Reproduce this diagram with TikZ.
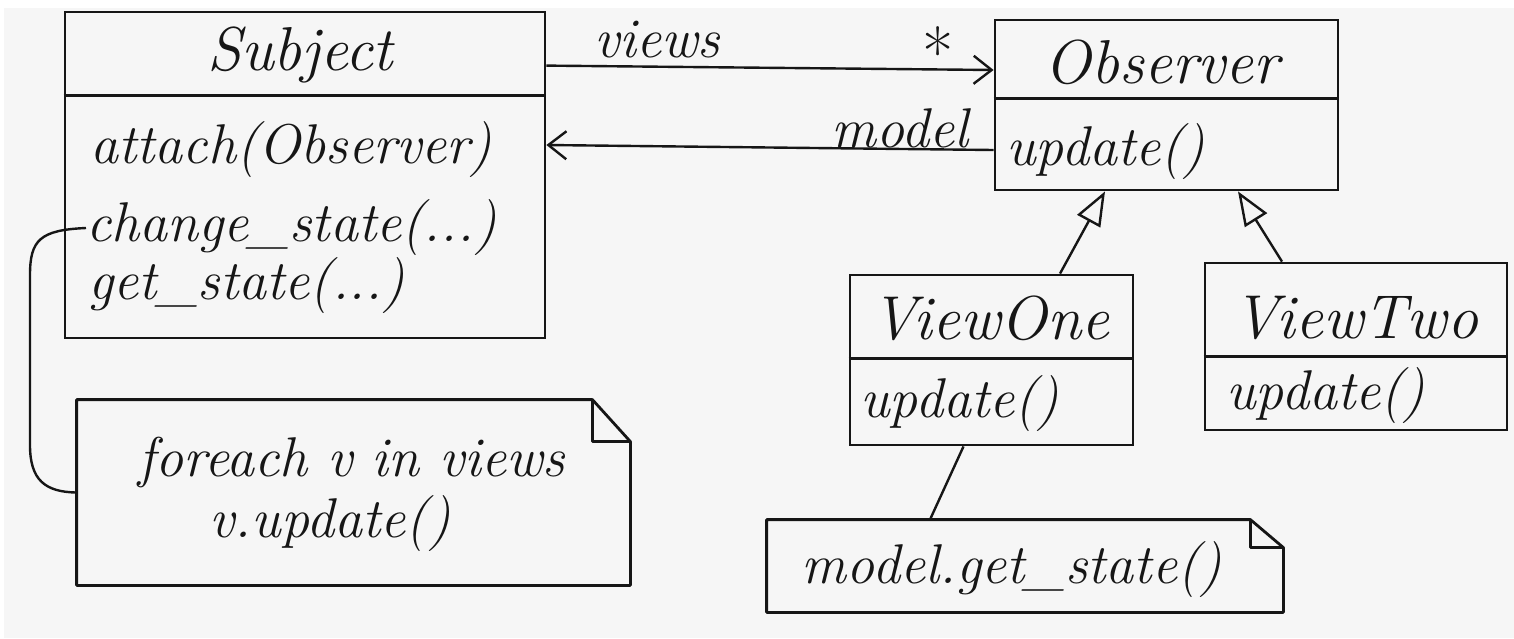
\documentclass[tikz,border=0pt]{standalone}
\usetikzlibrary{arrows.meta,calc}
\definecolor{paper}{RGB}{246,246,246}
\definecolor{ink}{RGB}{22,22,22}
\begin{document}
\begin{tikzpicture}[x=0.5pt,y=-0.5pt,
  classbox/.style={draw=ink, line width=1.4pt, inner sep=0pt},
  notebox/.style={inner sep=0pt},
  outline/.style={draw=ink, line width=1.4pt, line join=round},
  hand/.style={font=\fontsize{28}{34}\selectfont\itshape, text=ink, inner sep=0pt},
  title/.style={hand, font=\fontsize{31}{36}\selectfont\itshape},
  member/.style={hand, anchor=west},
  assoc/.style={draw=ink, line width=1.2pt,
    -{Straight Barb[length=9pt,width=14pt,line width=1.2pt]}},
  inherit/.style={draw=ink, line width=1.2pt,
    -{Triangle[open,length=17pt,width=13pt,line width=1.2pt]}},
  link/.style={draw=ink, line width=1.2pt}]

% paper
\fill[white] (0,0) rectangle (1514,638);
\fill[paper] (4,8) rectangle (1514,638);
\useasboundingbox (0,0) rectangle (1514,638);

% ---- Subject ----
\node[classbox, minimum width=240pt, minimum height=163pt] (subject) at (305,175) {};
\draw[outline] ([yshift=-42.5pt]subject.north west) -- ([yshift=-42.5pt]subject.north east);
\node[title] (subjectname) at (300,55) {Subject};
\node[member] (attach) at (90,150) {attach(Observer)};
\node[member] (change) at (86,228) {change\_state(...)};
\node[member] (getstate) at (88,286) {get\_state(...)};

% ---- Observer ----
\node[classbox, minimum width=171.5pt, minimum height=85pt] (observer) at (1166.5,105) {};
\draw[outline] ([yshift=-40pt]observer.north west) -- ([yshift=-40pt]observer.north east);
\node[title] (observername) at (1162,62) {Observer};
\node[member] (obsupdate) at (1006,152) {update()};

% ---- ViewOne ----
\node[classbox, minimum width=141.5pt, minimum height=85pt] (viewone) at (991.5,360) {};
\draw[outline] ([yshift=-42.5pt]viewone.north west) -- ([yshift=-42.5pt]viewone.north east);
\node[title] (viewonename) at (990,318) {ViewOne};
\node[member] (oneupdate) at (860,404) {update()};

% ---- ViewTwo ----
\node[classbox, minimum width=151pt, minimum height=83.5pt] (viewtwo) at (1356,346.5) {};
\draw[outline] ([yshift=-47.5pt]viewtwo.north west) -- ([yshift=-47.5pt]viewtwo.north east);
\node[title] (viewtwoname) at (1356,318) {ViewTwo};
\node[member] (twoupdate) at (1226,396) {update()};

% ---- notes ----
\node[notebox, minimum width=276.5pt, minimum height=92.5pt] (note1) at (353.5,492.5) {};
\draw[outline] (note1.north west) -- ([xshift=-19pt]note1.north east)
  -- ([yshift=-21pt]note1.north east) -- (note1.south east) -- (note1.south west) -- cycle;
\draw[outline] ([xshift=-19pt]note1.north east) -- ([xshift=-19pt,yshift=-21pt]note1.north east)
  -- ([yshift=-21pt]note1.north east);
\node[hand] (loop) at (352,462) {foreach v in views};
\node[hand] (call) at (330,524) {v.update()};

\node[notebox, minimum width=258pt, minimum height=46pt] (note2) at (1025,566) {};
\draw[outline] (note2.north west) -- ([xshift=-16.5pt]note2.north east)
  -- ([yshift=-14pt]note2.north east) -- (note2.south east) -- (note2.south west) -- cycle;
\draw[outline] ([xshift=-16.5pt]note2.north east) -- ([xshift=-16.5pt,yshift=-14pt]note2.north east)
  -- ([yshift=-14pt]note2.north east);
\node[hand] (getcall) at (1012,570) {model.get\_state()};

% ---- associations ----
\draw[assoc] ([yshift=-27.5pt]subject.north east) -- ([yshift=17.5pt]observer.west);
\node[hand] (viewslabel) at (657,40) {views};
\node[hand, font=\fontsize{34}{36}\selectfont] (many) at (938,52) {*};

\draw[assoc] ([yshift=-22.5pt]observer.west) -- ([yshift=15pt]subject.east);
\node[hand] (modellabel) at (900,128) {model};

% ---- generalisations ----
\draw[inherit] ([xshift=34.25pt]viewone.north) -- ([xshift=-30.75pt]observer.south);
\draw[inherit] ([xshift=-37pt]viewtwo.north) -- ([xshift=35.75pt]observer.south);

% ---- note anchors ----
\draw[link] (change.west) .. controls (40,230) and (30,240) .. (30,275)
  -- (30,445) .. controls (30,480) and (45,492) .. (note1.west);
\draw[link] ([xshift=-14pt]viewone.south) -- ([xshift=-47.5pt]note2.north);
\end{tikzpicture}
\end{document}
